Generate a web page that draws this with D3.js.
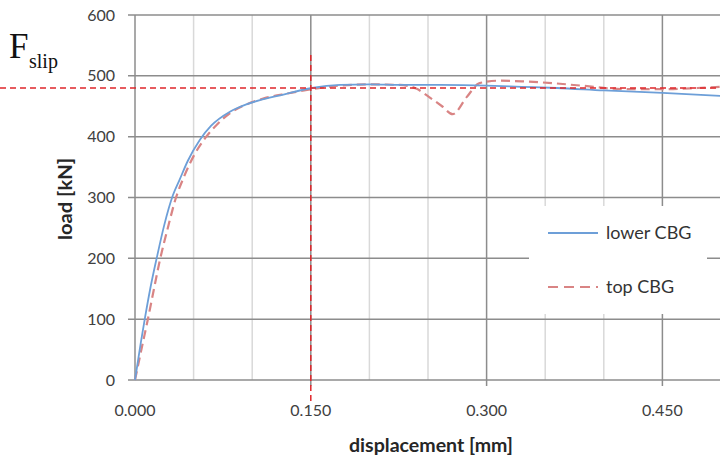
<!DOCTYPE html>
<html><head><meta charset="utf-8">
<script src="https://cdn.jsdelivr.net/npm/d3@7/dist/d3.min.js"></script>
<style>
html,body{margin:0;padding:0;background:#fff;}
svg{display:block;}
</style></head>
<body>
<svg id="chart" width="720" height="461"></svg>
<script>
const lowerX = [0, 0.005, 0.0085, 0.013, 0.0187, 0.025, 0.0324, 0.038, 0.045, 0.0554, 0.065, 0.081, 0.095, 0.1066, 0.124, 0.151, 0.175, 0.2, 0.23, 0.26, 0.3, 0.33, 0.36, 0.4, 0.45, 0.5];
const lowerY = [0, 62, 102, 150, 202, 255, 304, 329, 360, 395, 418, 441, 453, 460, 468, 480, 485, 486, 485, 485, 484, 482, 480, 476, 472, 467];
const topX = [0, 0.006, 0.011, 0.016, 0.021, 0.028, 0.035, 0.042, 0.05, 0.06, 0.07, 0.082, 0.095, 0.11, 0.13, 0.151, 0.175, 0.2, 0.226, 0.24, 0.251, 0.262, 0.271, 0.283, 0.294, 0.311, 0.33, 0.356, 0.38, 0.419, 0.453, 0.48, 0.5];
const topY = [0, 55, 100, 148, 195, 250, 300, 335, 368, 398, 420, 440, 453, 463, 471, 478, 484, 486, 485, 479, 465, 450, 437, 465, 488, 492, 491, 488, 484, 478, 478, 480, 482];
const xTicks = [0, 0.15, 0.30, 0.45];
const xTickLabels = ["0.000", "0.150", "0.300", "0.450"];
const xMinorTicks = [0.05, 0.10, 0.20, 0.25, 0.35, 0.40, 0.50];
const yTicks = [0, 100, 200, 300, 400, 500, 600];
const seriesNames = ["lower CBG", "top CBG"];
const fSlipLoad = 480;
const fSlipDisp = 0.15;

const svg = d3.select("#chart");
const x = d3.scaleLinear().domain([0, 0.5]).range([135, 721]);
const y = d3.scaleLinear().domain([0, 600]).range([380, 15]);

// minor vertical grid
svg.append("g").selectAll("line").data(xMinorTicks).join("line")
  .attr("x1", d => x(d)).attr("x2", d => x(d)).attr("y1", y(600)).attr("y2", y(0))
  .attr("stroke", "#d9d9d9").attr("stroke-width", 1.5);
// major vertical grid
svg.append("g").selectAll("line").data(xTicks.slice(1)).join("line")
  .attr("x1", d => x(d)).attr("x2", d => x(d)).attr("y1", y(600)).attr("y2", y(0) + 6)
  .attr("stroke", "#8c8c8c").attr("stroke-width", 1.5);
// horizontal grid
svg.append("g").selectAll("line").data(yTicks).join("line")
  .attr("x1", x(0) - 7).attr("x2", 720).attr("y1", d => y(d)).attr("y2", d => y(d))
  .attr("stroke", "#8c8c8c").attr("stroke-width", 1.5);
// y axis line
svg.append("line").attr("x1", x(0)).attr("x2", x(0)).attr("y1", y(600)).attr("y2", y(0))
  .attr("stroke", "#8c8c8c").attr("stroke-width", 1.5);

// tick labels
const lblFont = "Lato, 'Open Sans', sans-serif";
svg.append("g").selectAll("text").data(yTicks).join("text")
  .attr("x", 115).attr("y", d => y(d)).attr("dy", "0.35em")
  .attr("text-anchor", "end").attr("font-family", lblFont).attr("font-size", 16)
  .attr("fill", "#404040").text(d => d);
svg.append("g").selectAll("text").data(xTicks).join("text")
  .attr("x", d => x(d)).attr("y", 410).attr("dy", "0.35em")
  .attr("text-anchor", "middle").attr("font-family", lblFont).attr("font-size", 16)
  .attr("fill", "#404040").text((d, i) => xTickLabels[i]);

// axis titles
svg.append("text").attr("x", 431).attr("y", 446).attr("dy", "0.35em")
  .attr("text-anchor", "middle").attr("font-family", lblFont).attr("font-size", 18)
  .attr("textLength", 164).attr("lengthAdjust", "spacingAndGlyphs")
  .attr("font-weight", "bold").attr("fill", "#262626").text("displacement [mm]");
svg.append("text").attr("transform", "translate(66,199) rotate(-90)").attr("dy", "0.35em")
  .attr("text-anchor", "middle").attr("font-family", lblFont).attr("font-size", 18)
  .attr("textLength", 82).attr("lengthAdjust", "spacingAndGlyphs")
  .attr("font-weight", "bold").attr("fill", "#262626").text("load [kN]");

// legend box
svg.append("rect").attr("x", 529).attr("y", 206).attr("width", 178).attr("height", 108).attr("fill", "#fff");

// curves
const line = d3.line().x(d => x(d[0])).y(d => y(d[1])).curve(d3.curveMonotoneX);
svg.append("path").datum(topX.map((d, i) => [d, topY[i]])).attr("d", line)
  .attr("fill", "none").attr("stroke", "#d98484").attr("stroke-width", 2.2)
  .attr("stroke-dasharray", "9,5");
svg.append("path").datum(lowerX.map((d, i) => [d, lowerY[i]])).attr("d", line)
  .attr("fill", "none").attr("stroke", "#6d9fd8").attr("stroke-width", 1.8);

// Fslip lines
svg.append("line").attr("x1", 0).attr("x2", 720).attr("y1", y(fSlipLoad)).attr("y2", y(fSlipLoad))
  .attr("stroke", "#e0262a").attr("stroke-width", 1.5).attr("stroke-dasharray", "6,4");
svg.append("line").attr("x1", x(fSlipDisp)).attr("x2", x(fSlipDisp)).attr("y1", 55).attr("y2", 405)
  .attr("stroke", "#e0262a").attr("stroke-width", 1.5).attr("stroke-dasharray", "6,4");

// Fslip label
const serif = "'Liberation Serif', 'DejaVu Serif', serif";
svg.append("text").attr("x", 9).attr("y", 58).attr("font-family", serif)
  .attr("font-size", 35).attr("fill", "#111").text("F");
svg.append("text").attr("x", 29).attr("y", 68).attr("font-family", serif)
  .attr("font-size", 20).attr("fill", "#111").text("slip");

// legend
svg.append("line").attr("x1", 548).attr("x2", 598).attr("y1", 233).attr("y2", 233)
  .attr("stroke", "#6d9fd8").attr("stroke-width", 1.8);
svg.append("line").attr("x1", 548).attr("x2", 598).attr("y1", 287).attr("y2", 287)
  .attr("stroke", "#d98484").attr("stroke-width", 2.2).attr("stroke-dasharray", "10,6");
svg.append("g").selectAll("text").data(seriesNames).join("text")
  .attr("x", 606).attr("y", (d, i) => 233 + i * 54).attr("dy", "0.35em")
  .attr("font-family", lblFont).attr("font-size", 18).attr("fill", "#333").text(d => d);
</script>
</body></html>
